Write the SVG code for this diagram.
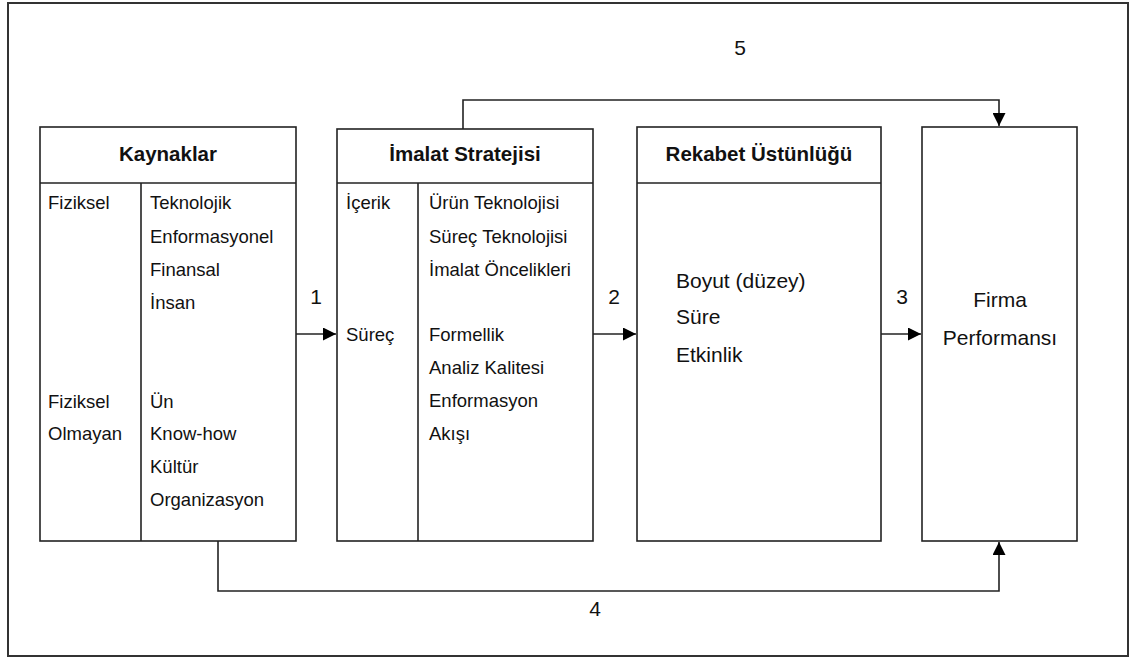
<svg xmlns="http://www.w3.org/2000/svg" width="1131" height="659" viewBox="0 0 1131 659">
<defs>
<marker id="ah" viewBox="0 0 12 12" refX="12" refY="6" markerWidth="13" markerHeight="13" markerUnits="userSpaceOnUse" orient="auto">
<path d="M0,0 L12,6 L0,12 Z" fill="#000"/>
</marker>
<style>
.box{fill:#fff;stroke:#222;stroke-width:1.6}
.ln{fill:none;stroke:#222;stroke-width:1.6}
.con{fill:none;stroke:#222;stroke-width:1.6}
text{font-family:"Liberation Sans",Arial,sans-serif;fill:#111}
.t{font-size:18.5px}
.h{font-size:20.5px;font-weight:bold}
.b{font-size:21px}
</style>
</defs>
<rect x="0" y="0" width="1131" height="659" fill="#fff"/>
<rect x="8" y="3" width="1120" height="653" fill="none" stroke="#333" stroke-width="2"/>

<g id="kaynaklar">
<rect class="box" x="40" y="127" width="256" height="414"/>
<line class="ln" x1="40" y1="183" x2="296" y2="183"/>
<line class="ln" x1="141" y1="183" x2="141" y2="541"/>
<text class="h" x="168" y="161" text-anchor="middle">Kaynaklar</text>
<text class="t" x="48" y="209">Fiziksel</text>
<text class="t" x="150" y="209">Teknolojik</text>
<text class="t" x="150" y="243">Enformasyonel</text>
<text class="t" x="150" y="276">Finansal</text>
<text class="t" x="150" y="309">İnsan</text>
<text class="t" x="48" y="408">Fiziksel</text>
<text class="t" x="48" y="440">Olmayan</text>
<text class="t" x="150" y="408">Ün</text>
<text class="t" x="150" y="440">Know-how</text>
<text class="t" x="150" y="473">Kültür</text>
<text class="t" x="150" y="506">Organizasyon</text>
</g>

<g id="imalat">
<rect class="box" x="337" y="129" width="256" height="412"/>
<line class="ln" x1="337" y1="183" x2="593" y2="183"/>
<line class="ln" x1="418" y1="183" x2="418" y2="541"/>
<text class="h" x="465" y="161" text-anchor="middle">İmalat Stratejisi</text>
<text class="t" x="346" y="209">İçerik</text>
<text class="t" x="429" y="209">Ürün Teknolojisi</text>
<text class="t" x="429" y="243">Süreç Teknolojisi</text>
<text class="t" x="429" y="276">İmalat Öncelikleri</text>
<text class="t" x="346" y="341">Süreç</text>
<text class="t" x="429" y="341">Formellik</text>
<text class="t" x="429" y="374">Analiz Kalitesi</text>
<text class="t" x="429" y="407">Enformasyon</text>
<text class="t" x="429" y="440">Akışı</text>
</g>

<g id="rekabet">
<rect class="box" x="637" y="127" width="244" height="414"/>
<line class="ln" x1="637" y1="183" x2="881" y2="183"/>
<text class="h" x="759" y="161" text-anchor="middle">Rekabet Üstünlüğü</text>
<text class="b" x="676" y="288">Boyut (düzey)</text>
<text class="b" x="676" y="324">Süre</text>
<text class="b" x="676" y="362">Etkinlik</text>
</g>

<g id="firma">
<rect class="box" x="922" y="127" width="155" height="414"/>
<text class="b" x="1000" y="307" text-anchor="middle">Firma</text>
<text class="b" x="1000" y="345" text-anchor="middle">Performansı</text>
</g>

<g id="connectors">
<line class="con" x1="296" y1="334" x2="336" y2="334" marker-end="url(#ah)"/>
<line class="con" x1="593" y1="334" x2="636" y2="334" marker-end="url(#ah)"/>
<line class="con" x1="881" y1="334" x2="921" y2="334" marker-end="url(#ah)"/>
<polyline class="con" points="463,129 463,100 999,100 999,126" marker-end="url(#ah)"/>
<polyline class="con" points="218,541 218,591 999,591 999,542" marker-end="url(#ah)"/>
<text class="b" x="316" y="304" text-anchor="middle">1</text>
<text class="b" x="614" y="304" text-anchor="middle">2</text>
<text class="b" x="902" y="304" text-anchor="middle">3</text>
<text class="b" x="595" y="616" text-anchor="middle">4</text>
<text class="b" x="740" y="55" text-anchor="middle">5</text>
</g>
</svg>
